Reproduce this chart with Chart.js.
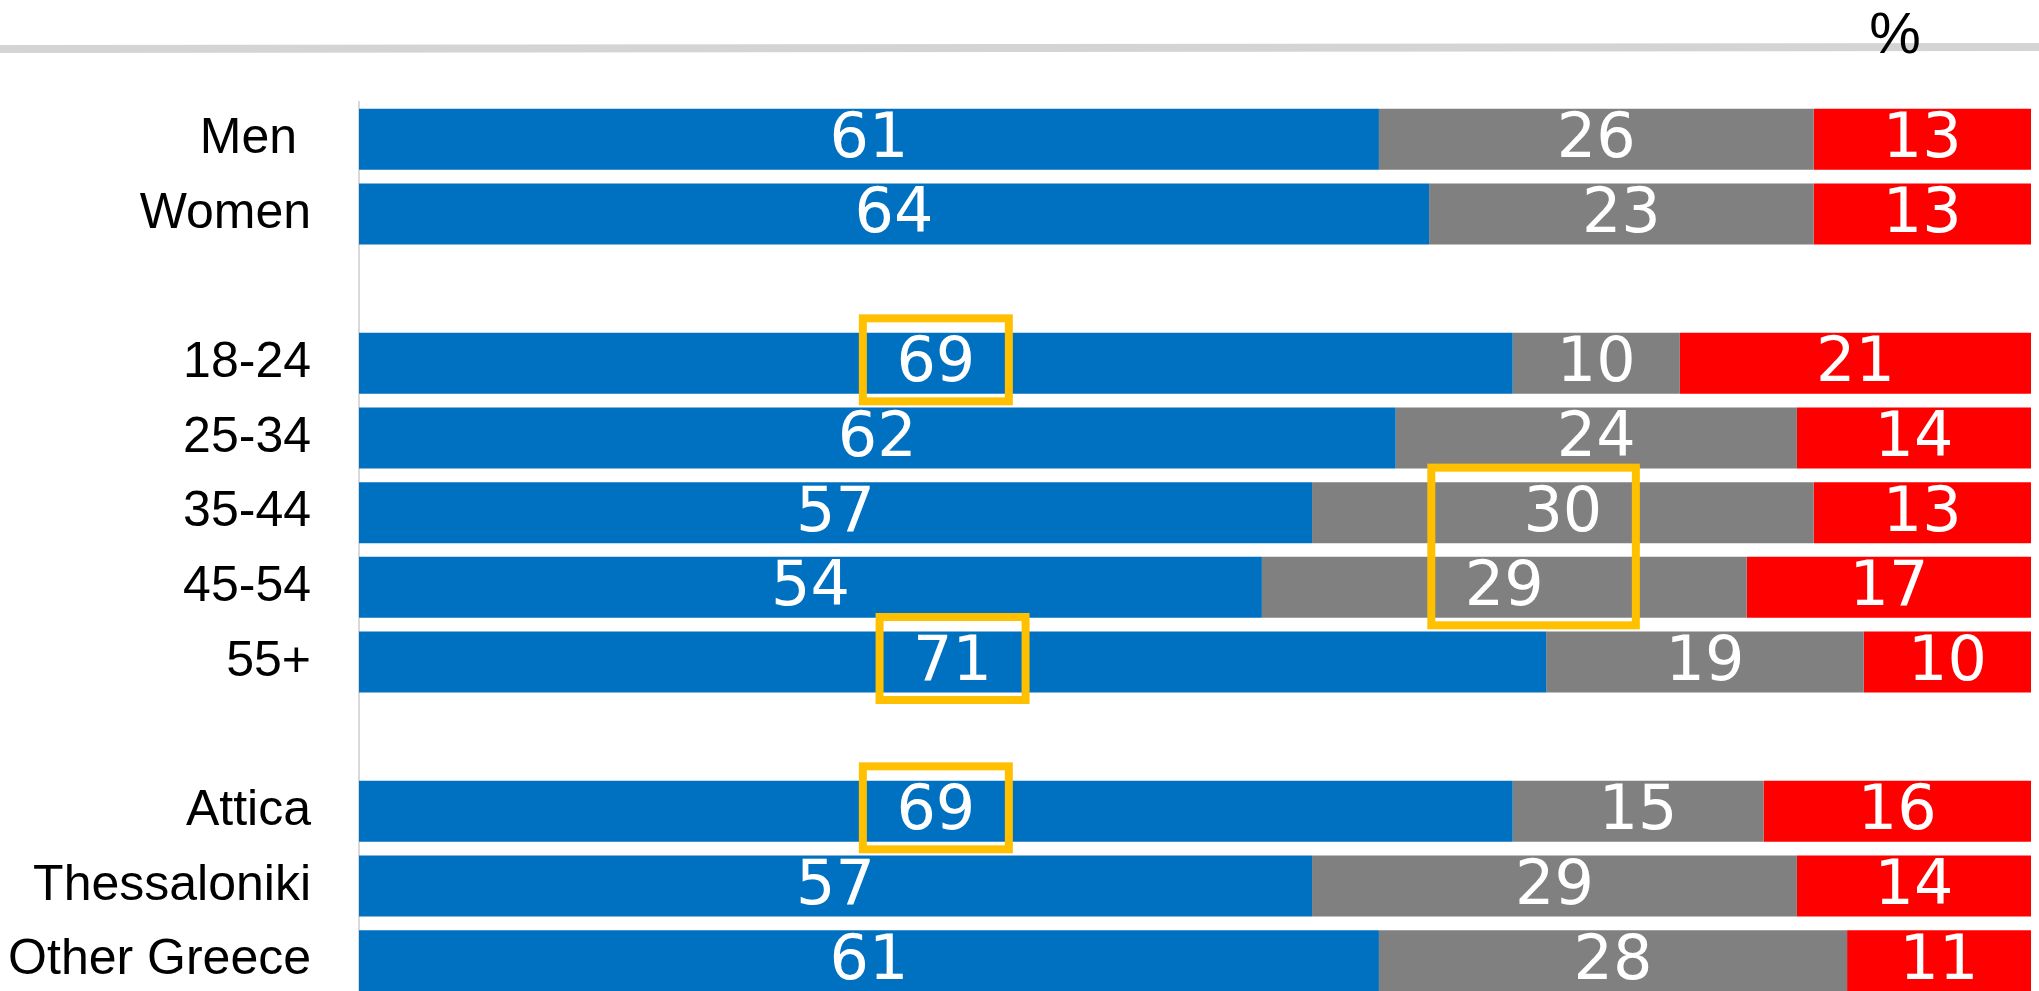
<!DOCTYPE html>
<html><head><meta charset="utf-8">
<script src="https://cdn.jsdelivr.net/npm/chart.js@4"></script>
<style>
html,body{margin:0;padding:0;overflow:hidden;background:#fff}
canvas{display:block}
</style>
</head><body><canvas id="c" width="2039" height="998" style="width:2039px;height:998px"></canvas>
<script>
// ---- data ----
const categories = ['Men ', 'Women', '', '18-24', '25-34', '35-44', '45-54', '55+', '', 'Attica', 'Thessaloniki', 'Other Greece'];
const blueValues = [61, 64, null, 69, 62, 57, 54, 71, null, 69, 57, 61];
const greyValues = [26, 23, null, 10, 24, 30, 29, 19, null, 15, 29, 28];
const redValues  = [13, 13, null, 21, 14, 13, 17, 10, null, 16, 14, 11];
const seriesNames = ['Blue', 'Grey', 'Red'];
const axisMin = 0, axisMax = 100;
const unitLabel = '%';
const highlightRows = [['18-24'], ['35-44', '45-54'], ['55+'], ['Attica']];
const highlightSeries = [0, 1, 0, 0];

// ---- styles ----
const colors = ['#0070C0', '#808080', '#FF0000'];
const valueFont = '62px "DejaVu Sans", sans-serif';

const decorPlugin = {
  id: 'decor',
  beforeDraw(chart) {
    const ctx = chart.ctx, ca = chart.chartArea;
    ctx.save();
    ctx.strokeStyle = '#d4d4d4';
    ctx.lineWidth = 8;
    ctx.beginPath();
    ctx.moveTo(0, 49);
    ctx.lineTo(chart.width, 47);
    ctx.stroke();
    ctx.fillStyle = '#000';
    ctx.font = '58px "Liberation Sans", Arial, sans-serif';
    ctx.textAlign = 'center';
    ctx.textBaseline = 'alphabetic';
    ctx.fillText(unitLabel, ca.right - 136, 53);
    ctx.restore();
  },
  afterDatasetsDraw(chart) {
    const ctx = chart.ctx;
    ctx.save();
    ctx.font = valueFont;
    ctx.fillStyle = '#fff';
    ctx.textAlign = 'center';
    ctx.textBaseline = 'middle';
    chart.data.datasets.forEach((ds, di) => {
      const meta = chart.getDatasetMeta(di);
      meta.data.forEach((el, i) => {
        const v = ds.data[i];
        if (v === null || v === undefined) return;
        const cx = (el.x + el.base) / 2;
        ctx.fillText(String(v), cx, el.y + 2);
      });
    });
    // highlight boxes
    ctx.strokeStyle = '#FFC000';
    ctx.lineWidth = 8;
    highlightRows.forEach((rows, hi) => {
      const meta = chart.getDatasetMeta(highlightSeries[hi]);
      let x0 = Infinity, x1 = -Infinity, y0 = Infinity, y1 = -Infinity;
      rows.forEach(r => {
        const idx = categories.indexOf(r);
        const el = meta.data[idx];
        const cx = (el.x + el.base) / 2;
        x0 = Math.min(x0, cx - 73); x1 = Math.max(x1, cx + 73);
        y0 = Math.min(y0, el.y - 45); y1 = Math.max(y1, el.y + 38);
      });
      ctx.strokeRect(x0, y0, x1 - x0, y1 - y0);
    });
    ctx.restore();
  }
};

new Chart(document.getElementById('c'), {
  type: 'bar',
  data: {
    labels: categories,
    datasets: [blueValues, greyValues, redValues].map((d, i) => ({
      label: seriesNames[i],
      data: d,
      backgroundColor: colors[i],
      borderWidth: 0,
      categoryPercentage: 1,
      barPercentage: 0.817
    }))
  },
  options: {
    indexAxis: 'y',
    responsive: false,
    animation: false,
    layout: { padding: { top: 102, right: 8, bottom: 0, left: 0 } },
    plugins: { legend: { display: false }, tooltip: { enabled: false }, title: { display: false } },
    scales: {
      x: { stacked: true, min: axisMin, max: axisMax, display: false },
      y: {
        stacked: true,
        grid: { display: false, drawTicks: false },
        border: { display: true, color: '#d9d9d9', width: 2 },
        ticks: { color: '#000', font: { family: '"Liberation Sans", Arial, sans-serif', size: 50 }, padding: 48, autoSkip: false },
        afterFit(scale) { scale.width = 359; scale.paddingTop = 0; scale.paddingBottom = 0; }
      }
    }
  },
  plugins: [decorPlugin]
});
</script>
</body></html>
